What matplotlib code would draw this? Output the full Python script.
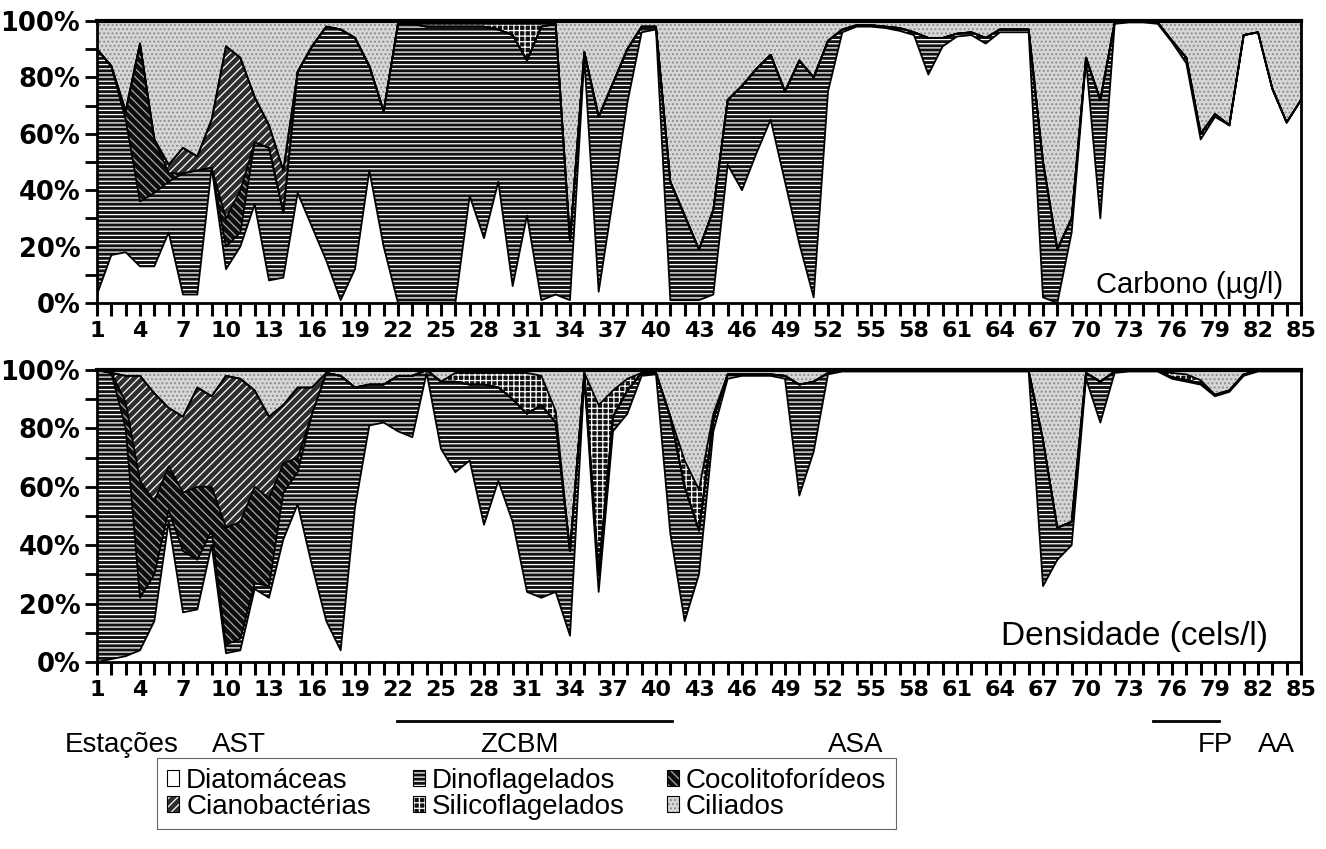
import numpy as np
import matplotlib
matplotlib.use("Agg")
import matplotlib.pyplot as plt
from matplotlib.patches import Patch
from matplotlib.legend_handler import HandlerTuple

plt.rcParams['font.family'] = ['Liberation Sans', 'DejaVu Sans']
plt.rcParams['hatch.linewidth'] = 0.9

stations = np.arange(1, 86)

# Carbono (ug/l) - percent of each group per station (ciliados = remainder)
carb_diat = [3, 17, 18, 13, 13, 25, 3, 3, 48, 12,
             20, 35, 8, 9, 39, 27, 15, 1, 12, 47,
             20, 0, 0, 0, 0, 0, 38, 23, 43, 6,
             31, 1, 3, 1, 87, 4, 37, 71, 96, 97,
             1, 1, 1, 3, 49, 40, 53, 65, 43, 21,
             2, 75, 96, 98, 98, 97.5, 96.5, 95, 81, 91,
             94.5, 95, 92, 96, 96, 96, 2, 0, 25, 86,
             30, 99, 99.5, 99.5, 99, 92.5, 85, 58, 66, 63,
             95, 96, 76, 64, 72]
carb_dino = [87, 67, 47, 23, 26, 18, 43, 44, 0, 8,
             5, 22, 47, 23, 43, 64, 83, 96, 82, 37,
             48, 99, 99, 98, 98, 98, 60, 75, 54, 89,
             55, 97, 96, 21, 2, 62, 41, 19, 2, 1,
             42, 30, 18, 30, 23, 37, 30, 23, 32, 65,
             78, 18, 1, 0.5, 0.5, 0.5, 1, 1, 13, 3,
             1, 1, 2, 1, 1, 1, 48, 19, 5, 1,
             42, 0.5, 0.2, 0.2, 0.5, 0.5, 2, 2, 1, 0,
             0, 0, 0, 0, 0]
carb_coco = {3: 3, 4: 56, 5: 19, 6: 3, 10: 10, 11: 15}
carb_ciano = {6: 3, 7: 9, 8: 5, 9: 17, 10: 61, 11: 47, 12: 16, 13: 8, 14: 15}
carb_silico = {24: 1, 25: 1, 26: 1, 27: 1, 28: 1, 29: 2, 30: 4, 31: 13, 32: 1}

# Densidade (cels/l)
dens_diat = [0, 1, 2, 4, 14, 48, 17, 18, 40, 3,
             4, 25, 22, 42, 54, 33, 14, 4, 53, 81,
             82, 79, 77, 99, 73, 65, 69, 47, 62, 48,
             24, 22, 24, 9, 97, 24, 79, 85, 98, 98.5,
             44, 14, 30, 79, 97, 98, 98, 98, 97, 57,
             72, 98.5, 99.5, 99.5, 99.5, 99.5, 99.5, 99.5, 99.5, 99.5,
             99.5, 99.5, 99.5, 99.5, 99.5, 99.5, 26, 35, 40, 97,
             82, 99, 99.5, 99.5, 99.5, 97, 96, 95, 91, 92.5,
             98, 99.5, 99.5, 99.5, 99.5]
dens_dino = [100, 98, 78, 18, 16, 4, 21, 17, 5, 3,
             4, 2, 4, 16, 11, 52, 85, 94, 41, 14,
             13, 19, 21, 1, 23, 31, 26, 48, 32, 42,
             61, 66, 58, 29, 2, 6, 5, 8, 1, 0.5,
             40, 46, 15, 4, 1.5, 0.5, 0.5, 0.5, 1, 38,
             24, 0.5, 0.2, 0.2, 0.2, 0.2, 0.2, 0.2, 0.2, 0.2,
             0.2, 0.2, 0.2, 0.2, 0.2, 0.2, 50, 11, 8, 2,
             14, 0.5, 0.2, 0.2, 0.2, 0.5, 0.5, 0.5, 0.5, 0.5,
             0.5, 0.2, 0.2, 0.2, 0.2]
dens_coco = {3: 9, 4: 40, 5: 25, 6: 15, 7: 20, 8: 25, 9: 15, 10: 40,
             11: 40, 12: 33, 13: 30, 14: 10, 15: 5}
dens_ciano = {3: 9, 4: 36, 5: 37, 6: 20, 7: 26, 8: 34, 9: 31, 10: 52,
              11: 49, 12: 33, 13: 28, 14: 20, 15: 24, 16: 9}
dens_silico = {26: 3, 27: 4, 28: 4, 29: 5, 30: 9, 31: 14, 32: 10, 33: 4,
               36: 58, 37: 9, 38: 4, 42: 9, 43: 14, 44: 2, 76: 1.5, 77: 2, 78: 1}

groups = ['Diatomáceas', 'Dinoflagelados', 'Cocolitoforídeos',
          'Cianobactérias', 'Silicoflagelados', 'Ciliados']
# face colour, hatch colour, hatch
styles = {
    'Diatomáceas': ('white', 'black', ''),
    'Dinoflagelados': ('#111111', 'white', '----'),
    'Cocolitoforídeos': ('#0d0d0d', '#a8a8a8', '\\\\\\\\'),
    'Cianobactérias': ('#2e2e2e', 'white', '////'),
    'Silicoflagelados': ('#111111', 'white', '+++'),
    'Ciliados': ('#d6d6d6', '#8a8a8a', '....'),
}


def full(d):
    return np.array([d.get(s, 0) for s in stations], dtype=float)


def draw(ax, diat, dino, coco, ciano, silico):
    layers = [np.array(diat, float), np.array(dino, float),
              full(coco), full(ciano), full(silico)]
    cil = np.clip(100 - np.sum(layers, axis=0), 0, None)
    layers.append(cil)
    polys = ax.stackplot(stations, layers)
    for poly, g in zip(polys, groups):
        face, hc, hatch = styles[g]
        poly.set_facecolor(face)
        poly.set_edgecolor(hc)
        poly.set_hatch(hatch)
        poly.set_linewidth(0)
    tops = np.cumsum(layers, axis=0)
    for top in tops[:-1]:
        ax.plot(stations, top, color='black', lw=1.3)

    ax.set_xlim(1, 85)
    ax.set_ylim(0, 100)
    ax.set_xticks(stations)
    ax.set_xticklabels([str(s) if (s - 1) % 3 == 0 else '' for s in stations])
    ax.set_yticks(range(0, 101, 20))
    ax.set_yticklabels([f'{v}%' for v in range(0, 101, 20)])
    ax.set_yticks(range(10, 100, 20), minor=True)
    ax.tick_params(axis='x', direction='out', length=9, width=2.2, pad=4)
    ax.tick_params(axis='y', which='both', direction='out', length=9, width=2, pad=3)
    for lab in ax.get_xticklabels():
        lab.set_fontfamily('DejaVu Sans')
        lab.set_fontweight('bold')
        lab.set_fontsize(16)
    for lab in ax.get_yticklabels():
        lab.set_fontfamily('DejaVu Sans')
        lab.set_fontweight('bold')
        lab.set_fontsize(18.5)
    for sp in ax.spines.values():
        sp.set_linewidth(2)
    ax.spines['top'].set_linewidth(3)


fig = plt.figure(figsize=(13.26, 8.49), dpi=100)
ax1 = fig.add_axes([97 / 1326, 1 - 303 / 849, 1204 / 1326, 282 / 849])
ax2 = fig.add_axes([97 / 1326, 1 - 662 / 849, 1204 / 1326, 292 / 849])

draw(ax1, carb_diat, carb_dino, carb_coco, carb_ciano, carb_silico)
draw(ax2, dens_diat, dens_dino, dens_coco, dens_ciano, dens_silico)

ax1.text(0.985, 0.035, 'Carbono (µg/l)', transform=ax1.transAxes,
         ha='right', va='baseline', fontsize=21)
ax2.text(0.973, 0.058, 'Densidade (cels/l)', transform=ax2.transAxes,
         ha='right', va='baseline', fontsize=24)

# regions under the station axis
tr = ax2.get_xaxis_transform()
regions = [('Estações', 2.7), ('AST', 10.9), ('ZCBM', 30.5),
           ('ASA', 53.9), ('FP', 79), ('AA', 83.3)]
for name, xs in regions:
    ax2.text(xs, -0.284, name, transform=tr, ha='center', va='center',
             fontsize=20, clip_on=False)
ax2.plot([21.9, 41.1], [-0.202, -0.202], transform=tr, color='black',
         lw=2, clip_on=False)
ax2.plot([74.7, 79.3], [-0.202, -0.202], transform=tr, color='black',
         lw=2, clip_on=False)

# legend (column-wise fill -> order)
order = ['Diatomáceas', 'Cianobactérias', 'Dinoflagelados',
         'Silicoflagelados', 'Cocolitoforídeos', 'Ciliados']
handles = []
for g in order:
    face, hc, hatch = styles[g]
    hp = Patch(facecolor=face, edgecolor=hc, hatch=hatch, linewidth=0)
    bp = Patch(facecolor='none', edgecolor='black', linewidth=0.8)
    handles.append((hp, bp))
leg = fig.legend(handles, order, loc='upper left',
                 bbox_to_anchor=(157 / 1326, 1 - 758 / 849), ncol=3,
                 fontsize=20, handlelength=0.45, handleheight=0.55,
                 handletextpad=0.25, columnspacing=1.5, labelspacing=0.0,
                 borderpad=0.35, borderaxespad=0, fancybox=False,
                 framealpha=1,
                 handler_map={tuple: HandlerTuple(ndivide=1)})
leg.get_frame().set_edgecolor('#666666')
leg.get_frame().set_linewidth(0.8)

fig.savefig('out.png', dpi=100)
